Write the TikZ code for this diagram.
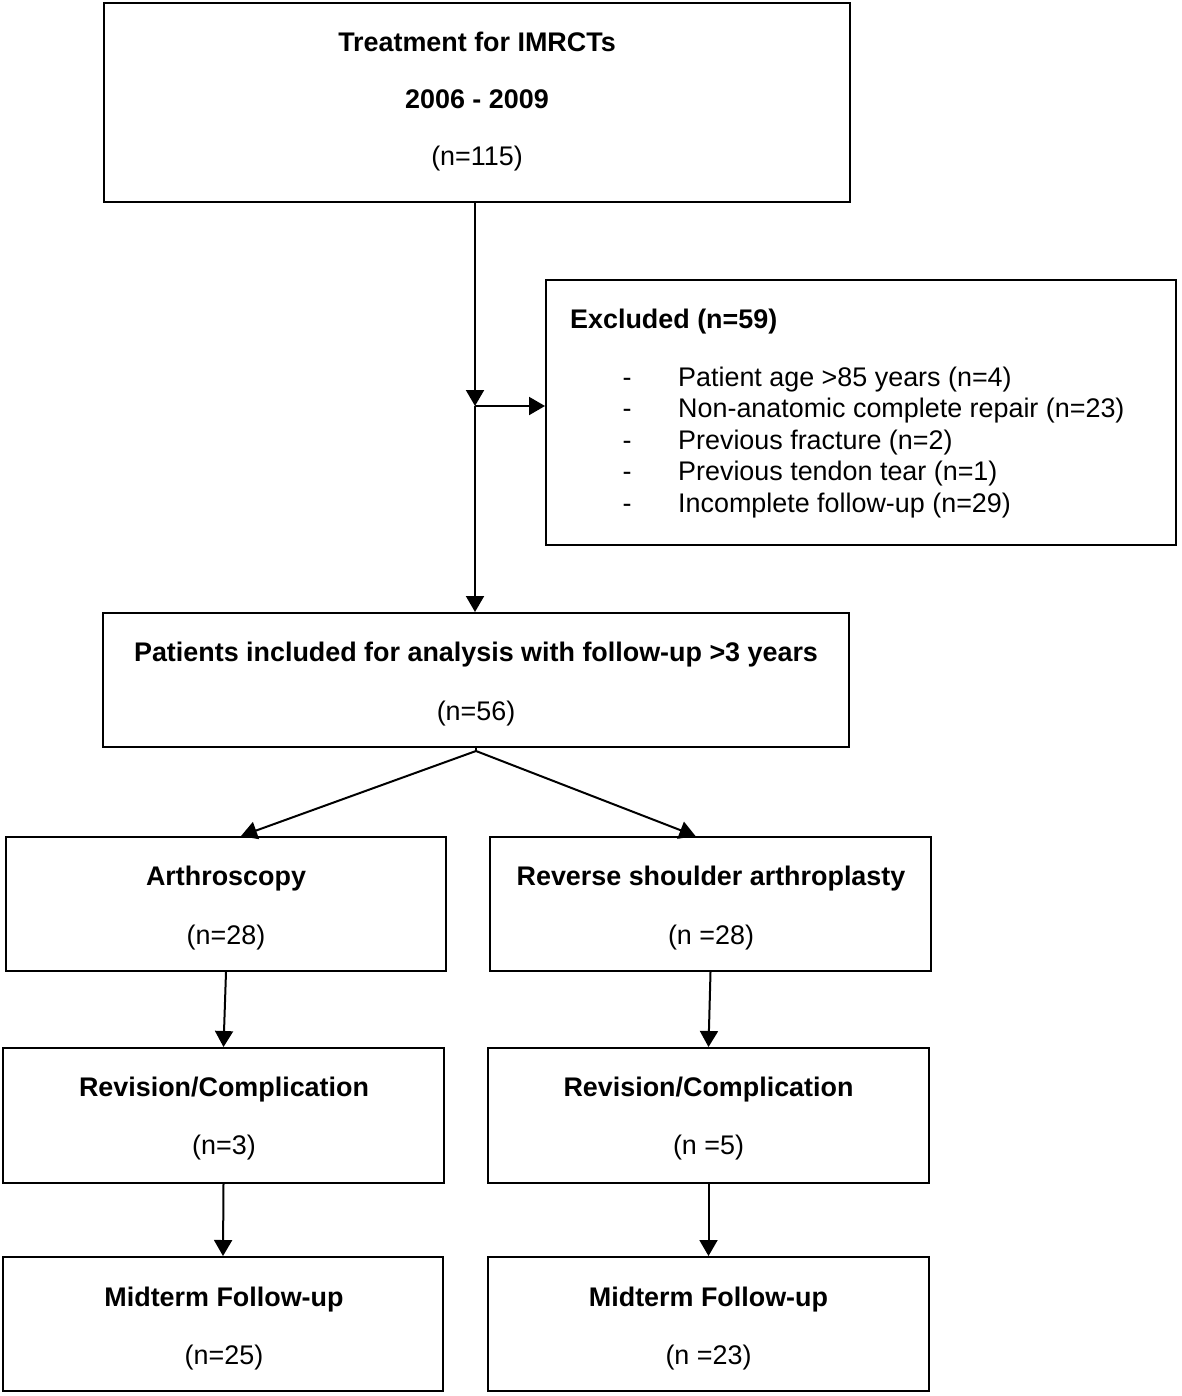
\documentclass[tikz,border=0pt]{standalone}
\usepackage{fontspec}
\setmainfont{Liberation Sans}
\usetikzlibrary{arrows.meta,calc}
\begin{document}
\begin{tikzpicture}[x=1pt,y=-1pt,
  box/.style={draw=black,line width=2pt,rectangle,inner sep=0pt},
  lbl/.style={anchor=base,inner sep=0pt,font=\fontsize{26.9}{30}\selectfont},
  blbl/.style={lbl,font=\fontsize{26.9}{30}\selectfont\bfseries},
  arr/.style={line width=2pt,-{Triangle[length=16pt,width=18pt]}},
  conn/.style={line width=2pt}]
\useasboundingbox[fill=white] (0,0) rectangle (1181,1396);
% boxes
\node[box,minimum width=746pt,minimum height=199pt] (top) at (477,102.5) {};
\node[box,minimum width=630pt,minimum height=265pt] (excl) at (861,412.5) {};
\node[box,minimum width=746pt,minimum height=134pt] (incl) at (476,680) {};
\node[box,minimum width=440pt,minimum height=134pt] (arth) at (226,904) {};
\node[box,minimum width=441pt,minimum height=134pt] (rsa) at (710.5,904) {};
\node[box,minimum width=441pt,minimum height=135pt] (revL) at (223.5,1115.5) {};
\node[box,minimum width=441pt,minimum height=135pt] (revR) at (708.5,1115.5) {};
\node[box,minimum width=440pt,minimum height=134pt] (midL) at (223,1324) {};
\node[box,minimum width=441pt,minimum height=134pt] (midR) at (708.5,1324) {};
% texts
\node[blbl] (t1) at (477,52) {Treatment for IMRCTs};
\node[blbl] (t2) at (477,109) {2006 - 2009};
\node[lbl] (t3) at (477,166) {(n=115)};
\node[blbl,anchor=base west] (e0) at (570,328) {Excluded (n=59)};
\foreach \i/\yy/\txt in {1/386/{Patient age >85 years (n=4)},2/417.5/{Non-anatomic complete repair (n=23)},3/449/{Previous fracture (n=2)},4/480.5/{Previous tendon tear (n=1)},5/512/{Incomplete follow-up (n=29)}}{
  \node[lbl] (d\i) at (627,\yy) {-};
  \node[lbl,anchor=base west] (e\i) at (678,\yy) {\txt};
}
\node[blbl] (i1) at (476,661) {Patients included for analysis with follow-up >3 years};
\node[lbl] (i2) at (476,720) {(n=56)};
\node[blbl] (a1) at (226,885) {Arthroscopy};
\node[lbl] (a2) at (226,944) {(n=28)};
\node[blbl] (r1) at (711,885) {Reverse shoulder arthroplasty};
\node[lbl] (r2) at (711,944) {(n =28)};
\node[blbl] (vl1) at (224,1096) {Revision/Complication};
\node[lbl] (vl2) at (224,1154) {(n=3)};
\node[blbl] (vr1) at (708.5,1096) {Revision/Complication};
\node[lbl] (vr2) at (708.5,1154) {(n =5)};
\node[blbl] (ml1) at (224,1306) {Midterm Follow-up};
\node[lbl] (ml2) at (224,1364) {(n=25)};
\node[blbl] (mr1) at (708.5,1306) {Midterm Follow-up};
\node[lbl] (mr2) at (708.5,1364) {(n =23)};
% connectors
\coordinate (j) at (475,406);
\draw[arr] (j |- top.south) -- (j);
\draw[arr] (j) -- (excl.west |- j);
\draw[arr] (j) -- (j |- incl.north);
\coordinate (s) at (476,751);
\draw[conn] (incl.south) -- (s);
\draw[arr] (s) -- ($(arth.north)+(15,0)$);
\draw[arr] (s) -- ($(rsa.north)+(-15,0)$);
\draw[arr] (arth.south) -- (revL.north);
\draw[arr] (rsa.south) -- (revR.north);
\draw[arr] (revL.south) -- (midL.north);
\draw[arr] (revR.south) -- (midR.north);
\end{tikzpicture}
\end{document}
